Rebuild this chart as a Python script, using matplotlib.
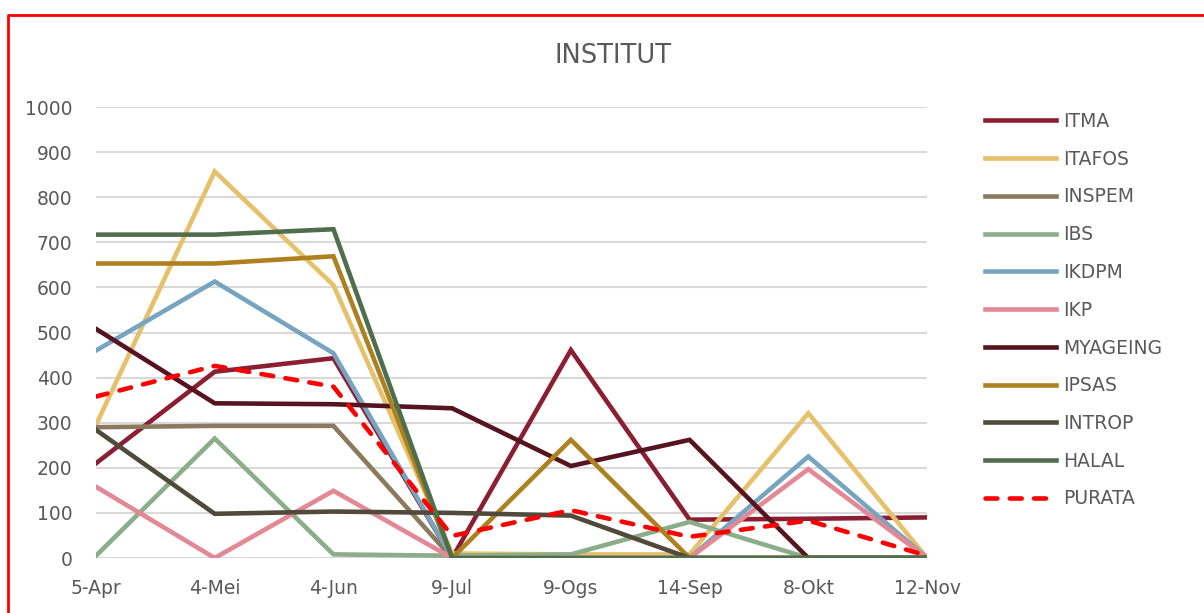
import matplotlib.pyplot as plt
from matplotlib.lines import Line2D

# category labels along x
months = ["5-Apr", "4-Mei", "4-Jun", "9-Jul", "9-Ogs", "14-Sep", "8-Okt", "12-Nov"]

# series values
itma = [210, 413, 443, 0, 461, 85, 87, 90]
itafos = [295, 857, 605, 10, 8, 8, 321, 0]
inspem = [290, 293, 293, 0, 0, 0, 0, 0]
ibs = [5, 265, 8, 5, 8, 80, 0, 0]
ikdpm = [460, 613, 454, 0, 0, 0, 225, 0]
ikp = [158, 0, 149, 0, 0, 0, 197, 0]
myageing = [508, 343, 341, 332, 204, 262, 0, 0]
ipsas = [653, 653, 669, 0, 262, 0, 0, 0]
introp = [284, 98, 103, 100, 94, 0, 0, 0]
halal = [717, 717, 729, 0, 0, 0, 0, 0]
purata = [358, 426, 380, 49, 106, 47, 83, 5]

series = [
	("ITMA", itma, "#8B1E32"),
	("ITAFOS", itafos, "#E6C06A"),
	("INSPEM", inspem, "#8B7A5E"),
	("IBS", ibs, "#8BAD8A"),
	("IKDPM", ikdpm, "#77A5C1"),
	("IKP", ikp, "#E48895"),
	("MYAGEING", myageing, "#561320"),
	("IPSAS", ipsas, "#AE8120"),
	("INTROP", introp, "#514A3A"),
	("HALAL", halal, "#4E6E4E"),
]

text_col = "#595959"

fig = plt.figure(figsize=(12.04, 6.13), dpi=100)
ax = fig.add_axes([96 / 1204, 1 - 558 / 613, (927 - 96) / 1204, (558 - 107) / 613])

x = list(range(len(months)))
for name, vals, col in series:
	ax.plot(x, vals, color=col, lw=3.3, label=name, solid_joinstyle="miter")
ax.plot(x, purata, color="#FF0000", lw=3.3, ls=(0, (2.6, 2.7)), dash_capstyle="round", label="PURATA")

ax.set_xlim(0, len(months) - 1)
ax.set_ylim(0, 1000)
ax.set_yticks(range(0, 1001, 100))
ax.set_xticks(x)
ax.set_xticklabels(months)
ax.grid(axis="y", color="#D9D9D9", lw=1.5)
ax.set_axisbelow(True)
for s in ax.spines.values():
	s.set_visible(False)
ax.tick_params(length=0, labelsize=13.5, labelcolor=text_col)
ax.tick_params(axis="y", pad=17)
ax.tick_params(axis="x", pad=15)

fig.text(613 / 1204, 1 - 56 / 613, "INSTITUT", ha="center", va="center", fontsize=18.5, color=text_col)

leg = fig.legend(loc="upper left", bbox_to_anchor=(985 / 1204, 1 - 112 / 613), frameon=False,
	fontsize=13.5, handlelength=3.8, handletextpad=0.35, labelspacing=1.0, borderaxespad=0, borderpad=0)
for t in leg.get_texts():
	t.set_color(text_col)

# red frame round the chart
fig.add_artist(Line2D([8 / 1204, 8 / 1204, 1], [0, 1 - 15 / 613, 1 - 15 / 613], color="#FF0000", lw=2,
	transform=fig.transFigure))

fig.savefig("out.png", dpi=100)
